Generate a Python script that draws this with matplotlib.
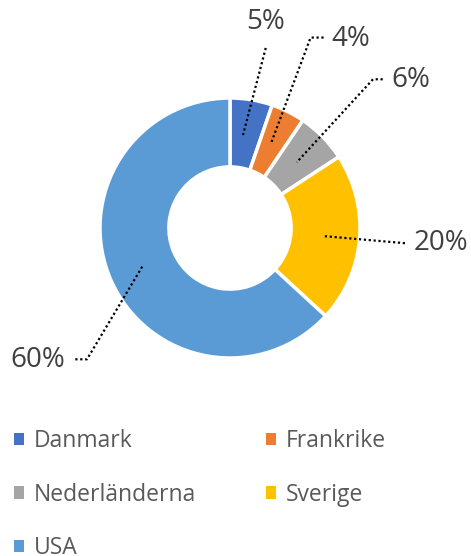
import matplotlib
matplotlib.use("Agg")
import matplotlib.pyplot as plt
from matplotlib.patches import Patch

categories = ["Danmark", "Frankrike", "Nederländerna", "Sverige", "USA"]
values = [5, 4, 6, 20, 60]
colors = ["#4472C4", "#ED7D31", "#A5A5A5", "#FFC000", "#5B9BD5"]

# label text positions and leader line points (data coords, radius 1 = outer)
label_pos = [(0.27, 1.585), (0.93, 1.45), (1.39, 1.14), (1.62, -0.115), (-1.48, -1.015)]
leaders = [
    [(0.275, 1.385), (0.10, 0.715)],
    [(0.72, 1.465), (0.62, 1.465), (0.315, 0.65)],
    [(1.175, 1.144), (1.10, 1.144), (0.513, 0.505)],
    [(1.346, -0.117), (0.717, -0.062)],
    [(-1.19, -1.01), (-1.10, -1.01), (-0.672, -0.292)],
]

plt.rcParams['font.family'] = ['Open Sans', 'DejaVu Sans']

W, H = 471, 556
fig = plt.figure(figsize=(W / 100, H / 100), dpi=100)
cx, cy, r = 230, 228, 130
ax = fig.add_axes([(cx - r) / W, (H - cy - r) / H, 2 * r / W, 2 * r / H])

ax.pie(values, colors=colors, startangle=90, counterclock=False, radius=1,
       wedgeprops=dict(width=0.53, edgecolor="white", linewidth=2.5))
ax.set_xlim(-1, 1)
ax.set_ylim(-1, 1)
ax.set_aspect("equal")
ax.axis("off")

for v, pos, pts in zip(values, label_pos, leaders):
    xs = [p[0] for p in pts]
    ys = [p[1] for p in pts]
    ax.plot(xs, ys, color="black", linestyle=(0, (1, 1.2)), linewidth=1.6,
            clip_on=False)
    ax.text(pos[0], pos[1], f"{v}%", fontsize=20, color="#404040",
            ha="center", va="center", clip_on=False)

order = [0, 2, 4, 1, 3]
handles = [Patch(facecolor=colors[i], edgecolor="none") for i in order]
labels = [categories[i] for i in order]
leg = fig.legend(handles, labels, loc="upper left",
                 bbox_to_anchor=(14 / W, 1 - 429 / H), ncol=2, frameon=False,
                 prop=dict(size=16.5), labelcolor="#595959",
                 handlelength=0.45, handleheight=0.45, handletextpad=0.42,
                 columnspacing=3.05, labelspacing=1.29, borderaxespad=0.0,
                 borderpad=0.0)

fig.savefig("out.png", dpi=100)
